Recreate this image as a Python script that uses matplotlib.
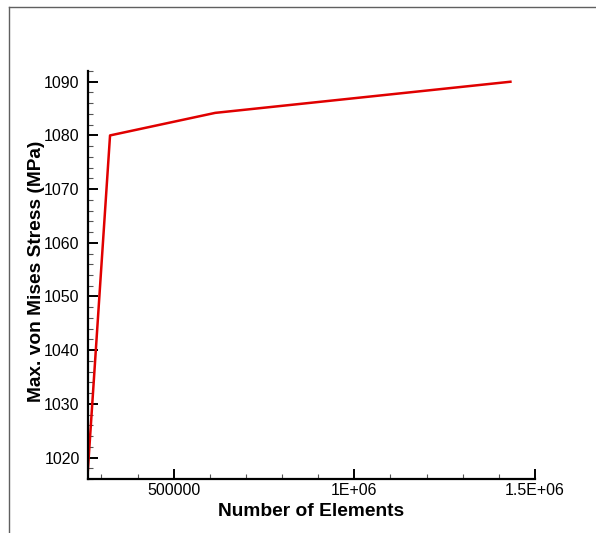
import matplotlib
matplotlib.use("Agg")
import matplotlib.pyplot as plt
from matplotlib.lines import Line2D
from matplotlib.ticker import FixedLocator, MultipleLocator, FixedFormatter

# Mesh convergence data
num_elements = [262000, 324000, 615000, 1432000]
max_von_mises = [1017.0, 1080.0, 1084.2, 1090.0]

x_major_ticks = [500000, 1000000, 1500000]
x_tick_labels = ["500000", "1E+06", "1.5E+06"]
y_major_ticks = [1020, 1030, 1040, 1050, 1060, 1070, 1080, 1090]

plt.rcParams["font.family"] = ["Liberation Sans", "DejaVu Sans"]

fig = plt.figure(figsize=(5.96, 5.33), dpi=100)
ax = fig.add_axes([88 / 596, 54 / 533, 447 / 596, 408 / 533])

ax.plot(num_elements, max_von_mises, color="#e00000", linewidth=1.8, clip_on=True)

ax.set_xlim(263000, 1500000)
ax.set_ylim(1016, 1092)

ax.xaxis.set_major_locator(FixedLocator(x_major_ticks))
ax.xaxis.set_major_formatter(FixedFormatter(x_tick_labels))
ax.xaxis.set_minor_locator(MultipleLocator(100000))
ax.yaxis.set_major_locator(FixedLocator(y_major_ticks))
ax.yaxis.set_minor_locator(MultipleLocator(2))

for side in ("top", "right"):
    ax.spines[side].set_visible(False)
for side in ("left", "bottom"):
    ax.spines[side].set_linewidth(1.6)

ax.tick_params(which="major", direction="in", length=7, width=1.4,
               labelsize=11.5, color="black")
ax.tick_params(which="minor", direction="in", length=3.6, width=0.8,
               color="#555555")
ax.tick_params(axis="y", which="major", pad=6)
ax.tick_params(axis="x", which="major", pad=3)

ax.set_xlabel("Number of Elements", fontsize=13.8, fontweight="bold")
ax.set_ylabel("Max. von Mises Stress (MPa)", fontsize=13.8, fontweight="bold")
ax.xaxis.set_label_coords(0.5, -0.058)
ax.yaxis.set_label_coords(-0.097, 0.51)

# Frame lines along the left and top edges of the figure
fig.add_artist(Line2D([9 / 596, 9 / 596], [0, 1 - 7 / 533],
                      transform=fig.transFigure, color="#606060", linewidth=1.0))
fig.add_artist(Line2D([9 / 596, 1], [1 - 7 / 533, 1 - 7 / 533],
                      transform=fig.transFigure, color="#606060", linewidth=1.0))

fig.savefig("out.png", dpi=100)
